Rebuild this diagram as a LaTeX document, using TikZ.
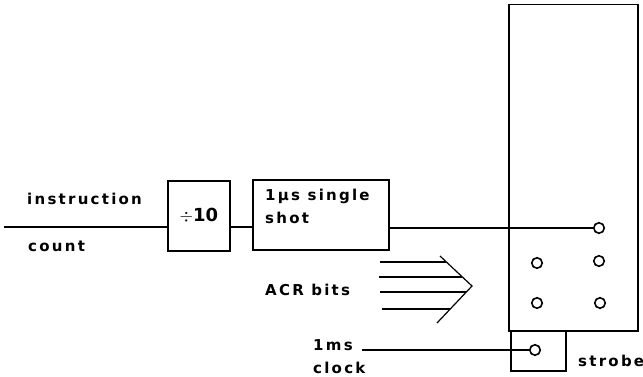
\documentclass[tikz,border=0pt]{standalone}
\usepackage{fontspec}
\setmainfont{DejaVu Sans}
\newfontfamily\spaced[LetterSpace=15]{DejaVu Sans}
\begin{document}
\begin{tikzpicture}[x=1pt,y=-1pt,
  block/.style={draw, line width=1.8pt, inner sep=0pt, anchor=north west},
  panelbox/.style={draw, line width=1.5pt, inner sep=0pt, anchor=north west},
  pin/.style={circle, draw, line width=1.6pt, minimum size=10.5pt, inner sep=0pt, fill=white},
  wire/.style={line width=1.2pt},
  caption/.style={font=\spaced\bfseries\fontsize{15}{23}\selectfont, inner sep=0pt, anchor=west},
]
\useasboundingbox (0,0) rectangle (643,377);

\node[panelbox, minimum width=129pt, minimum height=326pt] (panel) at (508,4) {};
\node[block, minimum width=62pt, minimum height=70pt, font=\bfseries\fontsize{18}{18}\selectfont] (div) at (167,180) {$\div$10};
\node[block, minimum width=136pt, minimum height=70pt] (shot) at (252,179) {};
\node[panelbox, minimum width=55pt, minimum height=40pt] (strobebox) at (510,330) {};

\node[pin] (p1) at (599,228) {};
\node[pin] (p2) at (537,263) {};
\node[pin] (p3) at (599,261) {};
\node[pin] (p4) at (537,303) {};
\node[pin] (p5) at (600,303) {};
\node[pin] (p6) at (535,350) {};

\coordinate (in) at (4,227);
\coordinate (tip) at (472,286);
\coordinate (c1) at (440,256);
\coordinate (c2) at (437,323);
\coordinate (a1) at (380,262);
\coordinate (a2) at (379,277);
\coordinate (a3) at (380,292);
\coordinate (a4) at (382,309);
\coordinate (b1) at (446,262);
\coordinate (b2) at (462,277);
\coordinate (b3) at (466,292);
\coordinate (b4) at (450,309);
\coordinate (clk) at (362,350);

\draw[wire] (in) -- (in -| div.west);
\draw[wire] (div.east |- in) -- (shot.west |- in);
\draw[wire] (shot.east |- p1) -- (p1);
\foreach \n in {1,2,3,4} \draw[wire] (a\n) -- (b\n);
\draw[wire] (c1) -- (tip) -- (c2);
\draw[wire] (clk) -- (p6);

\node[caption] (t1) at (27,199) {instruction};
\node[caption] (t2) at (28,246) {count};
\node[caption, align=left, anchor=north west] (t3) at (265,189) {1µs single\\shot};
\node[caption] (t4) at (265,290) {ACR bits};
\node[caption] (t5) at (313,345) {1ms};
\node[caption] (t6) at (313,368) {clock};
\node[caption] (t7) at (578,361) {strobe};
\end{tikzpicture}
\end{document}
